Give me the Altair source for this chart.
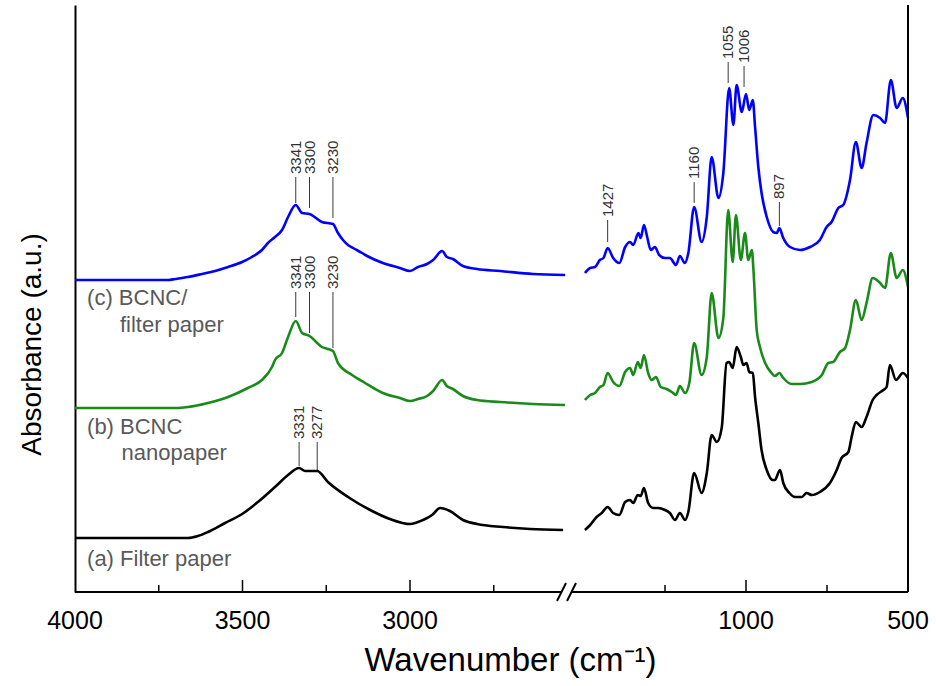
import altair as alt
import pandas as pd

# ---------------------------------------------------------------
# FTIR spectra (absorbance in a.u., vertically stacked)
# high-wavenumber segment 4000-2500 cm-1, fingerprint segment 1500-500 cm-1
# ---------------------------------------------------------------

# (a) Filter paper
FP_HI_WN = [4000, 3700, 3663, 3633, 3603, 3552, 3501, 3454, 3403, 3364, 3331, 3313,
            3277, 3245, 3185, 3119, 3060, 3000, 2961, 2934, 2910, 2881, 2842, 2800,
            2722, 2642, 2543]
FP_HI_ABS = [0.54, 0.54, 0.54, 0.56, 0.60, 0.69, 0.78, 0.90, 1.05, 1.17, 1.24, 1.21,
             1.21, 1.10, 0.95, 0.82, 0.73, 0.68, 0.72, 0.77, 0.84, 0.81, 0.72, 0.68,
             0.65, 0.63, 0.62]
FP_LO_WN = [1497, 1481, 1461, 1445, 1427, 1410, 1391, 1373, 1358, 1348, 1334, 1325,
            1315, 1302, 1286, 1271, 1250, 1235, 1219, 1204, 1188, 1178, 1160, 1137,
            1121, 1106, 1090, 1075, 1060, 1052, 1041, 1029, 1016, 1008, 998, 990,
            979, 972, 962, 952, 936, 918, 911, 895, 885, 866, 849, 828, 813, 797,
            772, 741, 720, 705, 684, 674, 661, 643, 628, 609, 597, 576, 566, 556,
            537, 516, 500]
FP_LO_ABS = [0.62, 0.67, 0.75, 0.79, 0.85, 0.79, 0.77, 0.90, 0.92, 0.89, 0.97, 0.96,
             1.04, 0.89, 0.84, 0.84, 0.82, 0.79, 0.72, 0.79, 0.72, 0.80, 1.19, 0.99,
             1.19, 1.57, 1.50, 1.64, 2.29, 2.30, 2.24, 2.45, 2.35, 2.27, 2.29, 2.20,
             2.19, 1.95, 1.69, 1.42, 1.22, 1.12, 1.12, 1.22, 1.09, 0.99, 0.95, 0.95,
             0.99, 0.97, 1.00, 1.09, 1.22, 1.34, 1.40, 1.55, 1.70, 1.65, 1.75, 1.92,
             1.97, 2.02, 2.05, 2.27, 2.12, 2.19, 2.14]

# (b) BCNC nanopaper
NP_HI_WN = [4000, 3700, 3663, 3603, 3543, 3484, 3442, 3412, 3403, 3382, 3364, 3341,
            3322, 3300, 3263, 3230, 3215, 3173, 3134, 3104, 3081, 3030, 3000, 2976,
            2949, 2931, 2904, 2890, 2872, 2842, 2800, 2731, 2633, 2537]
NP_HI_ABS = [1.84, 1.84, 1.85, 1.89, 1.95, 2.04, 2.12, 2.25, 2.32, 2.39, 2.55, 2.71,
             2.59, 2.56, 2.45, 2.41, 2.29, 2.17, 2.09, 2.03, 1.99, 1.94, 1.91, 1.93,
             1.96, 2.01, 2.12, 2.06, 2.03, 1.96, 1.92, 1.90, 1.88, 1.87]
NP_LO_WN = [1497, 1481, 1466, 1451, 1440, 1427, 1410, 1391, 1373, 1358, 1348, 1334,
            1325, 1315, 1302, 1291, 1278, 1263, 1245, 1229, 1216, 1204, 1188, 1175,
            1160, 1137, 1121, 1106, 1085, 1070, 1055, 1041, 1031, 1016, 1003, 993,
            982, 977, 967, 957, 941, 921, 911, 897, 885, 859, 833, 797, 766, 746,
            731, 710, 694, 679, 661, 643, 628, 609, 586, 571, 553, 535, 516, 500]
NP_LO_ABS = [1.92, 1.97, 1.99, 2.05, 2.07, 2.19, 2.10, 2.06, 2.20, 2.24, 2.17, 2.30,
             2.24, 2.37, 2.19, 2.12, 2.15, 2.05, 2.03, 2.00, 1.97, 2.06, 1.99, 2.09,
             2.49, 2.17, 2.35, 2.99, 2.54, 2.74, 3.82, 3.30, 3.77, 3.32, 3.59, 3.32,
             3.42, 3.22, 2.62, 2.45, 2.29, 2.19, 2.16, 2.19, 2.14, 2.08, 2.08, 2.10,
             2.17, 2.29, 2.30, 2.40, 2.44, 2.62, 2.92, 2.72, 2.89, 3.14, 3.09, 3.04,
             3.39, 3.14, 3.22, 3.05]

# (c) BCNC/filter paper
BF_HI_WN = [4000, 3722, 3701, 3663, 3621, 3582, 3543, 3501, 3472, 3442, 3424, 3403,
            3382, 3364, 3341, 3322, 3300, 3263, 3230, 3215, 3200, 3185, 3170, 3143,
            3128, 3081, 3030, 3000, 2976, 2949, 2931, 2904, 2890, 2872, 2842, 2800,
            2731, 2633, 2537]
BF_HI_ABS = [3.12, 3.12, 3.13, 3.15, 3.18, 3.21, 3.25, 3.30, 3.35, 3.42, 3.49, 3.55,
             3.62, 3.75, 3.87, 3.79, 3.78, 3.70, 3.68, 3.59, 3.52, 3.47, 3.44, 3.39,
             3.36, 3.29, 3.24, 3.21, 3.25, 3.28, 3.32, 3.41, 3.35, 3.33, 3.26, 3.23,
             3.21, 3.18, 3.17]
BF_LO_WN = [1497, 1481, 1466, 1451, 1440, 1427, 1410, 1391, 1373, 1358, 1348, 1332,
            1325, 1315, 1305, 1294, 1281, 1268, 1250, 1235, 1216, 1204, 1189, 1178,
            1160, 1137, 1121, 1106, 1085, 1070, 1052, 1039, 1029, 1013, 1000, 990,
            979, 972, 962, 952, 936, 916, 905, 897, 885, 864, 833, 802, 772, 751,
            736, 715, 700, 679, 661, 643, 628, 607, 586, 571, 553, 535, 516, 500]
BF_LO_ABS = [3.19, 3.24, 3.25, 3.32, 3.34, 3.44, 3.34, 3.29, 3.45, 3.50, 3.47, 3.59,
             3.54, 3.67, 3.55, 3.42, 3.45, 3.37, 3.34, 3.34, 3.27, 3.36, 3.29, 3.39,
             3.85, 3.50, 3.75, 4.35, 3.94, 4.19, 5.04, 4.67, 5.07, 4.80, 4.98, 4.82,
             4.92, 4.65, 4.25, 3.99, 3.75, 3.60, 3.59, 3.64, 3.54, 3.45, 3.42, 3.45,
             3.52, 3.65, 3.70, 3.84, 3.87, 4.12, 4.50, 4.24, 4.49, 4.77, 4.74, 4.69,
             5.12, 4.84, 4.94, 4.74]

SAMPLES = ["(a) Filter paper", "(b) BCNC nanopaper", "(c) BCNC/filter paper"]
COLORS = ["#000000", "#1a8a1a", "#0000ff"]

# peak assignments: wavenumber, leader-line start/end (a.u.)
PEAK_WN = [3341, 3300, 3230, 1427, 1160, 1055, 1006, 897,
           3341, 3300, 3230,
           3331, 3277]
PEAK_BASE = [3.89, 3.84, 3.74, 3.50, 3.89, 5.09, 5.05, 3.66,
             2.75, 2.59, 2.44,
             1.26, 1.22]
PEAK_TOP = [4.15, 4.15, 4.15, 3.72, 4.10, 5.30, 5.26, 3.90,
            3.00, 3.00, 3.00,
            1.50, 1.50]

# curve captions
CAPTION_TEXT = ["(c) BCNC/", "filter paper", "(b) BCNC", "nanopaper", "(a) Filter paper"]
CAPTION_WN = [3964, 3866, 3964, 3861, 3964]
CAPTION_ABS = [2.87, 2.60, 1.58, 1.32, 0.26]

# x axis ticks
MAJOR_TICKS = [3500, 3000, 1000]
MINOR_TICKS = [3750, 3250, 2750, 1250, 750]
TICK_LABELS = [4000, 3500, 3000, 1000, 500]

# ---------------------------------------------------------------
W, H = 833, 587
FONT = "Liberation Sans, Arial, sans-serif"


def axis_pos(wn):
    """Broken wavenumber axis: 4000-2500 on the left, 1500-500 on the right."""
    if wn >= 2000:
        return (4000 - wn) * 0.335
    return 671 + (1000 - wn) * 0.324


rows = []
for sample, seg, wns, vals in [
    (SAMPLES[0], "hi", FP_HI_WN, FP_HI_ABS), (SAMPLES[0], "lo", FP_LO_WN, FP_LO_ABS),
    (SAMPLES[1], "hi", NP_HI_WN, NP_HI_ABS), (SAMPLES[1], "lo", NP_LO_WN, NP_LO_ABS),
    (SAMPLES[2], "hi", BF_HI_WN, BF_HI_ABS), (SAMPLES[2], "lo", BF_LO_WN, BF_LO_ABS),
]:
    for w, a in zip(wns, vals):
        rows.append({"sample": sample, "trace": f"{sample} {seg}", "wn": w,
                     "pos": axis_pos(w), "absorbance": a})
spectra = pd.DataFrame(rows)

peaks = pd.DataFrame({
    "wn": PEAK_WN, "base": PEAK_BASE, "top": PEAK_TOP,
    "label": [str(w) for w in PEAK_WN],
})
peaks["pos"] = peaks["wn"].map(axis_pos)
peaks["label_y"] = peaks["top"] + 0.03

captions = pd.DataFrame({"text": CAPTION_TEXT, "wn": CAPTION_WN, "absorbance": CAPTION_ABS})
captions["pos"] = captions["wn"].map(axis_pos)

major = pd.DataFrame({"pos": [axis_pos(w) for w in MAJOR_TICKS]})
minor = pd.DataFrame({"pos": [axis_pos(w) for w in MINOR_TICKS]})
tick_labels = pd.DataFrame({"pos": [axis_pos(w) for w in TICK_LABELS],
                            "label": [str(w) for w in TICK_LABELS]})

# axis line split around the break, and the two break slashes (plot units)
BREAK_MID = 492
axis_segments = pd.DataFrame({"start": [0, BREAK_MID + 5], "end": [BREAK_MID - 5, W]})
slashes = pd.DataFrame({"x0": [BREAK_MID - 10, BREAK_MID], "x1": [BREAK_MID - 1, BREAK_MID + 9]})
frame = pd.DataFrame({"side": ["right"]})

x_scale = alt.Scale(domain=[0, W], nice=False, zero=False)
y_scale = alt.Scale(domain=[0, 5.87], nice=False, zero=False)

x_axis = alt.Axis(
    title="Wavenumber (cm⁻¹)", labels=False, ticks=False, domain=False, grid=False,
    titleFont=FONT, titleFontSize=33, titleFontWeight="normal", titleColor="#000000",
    titleX=435, titleY=68, titleAlign="center", titleBaseline="middle",
)
y_axis = alt.Axis(
    title="Absorbance (a.u.)", labels=False, ticks=False, grid=False,
    domain=True, domainColor="#000000", domainWidth=2,
    titleFont=FONT, titleFontSize=28, titleFontWeight="normal", titleColor="#000000",
    titleAngle=270, titleX=-43, titleY=339, titleAlign="center", titleBaseline="middle",
)


def X(field):
    return alt.X(field, type="quantitative", scale=x_scale, axis=x_axis)


def Y(field):
    return alt.Y(field, type="quantitative", scale=y_scale, axis=y_axis)


lines = alt.Chart(spectra).mark_line(strokeWidth=2.6, interpolate="monotone").encode(
    x=X("pos"),
    y=Y("absorbance"),
    color=alt.Color("sample:N", scale=alt.Scale(domain=SAMPLES, range=COLORS), legend=None),
    detail="trace:N",
    order="pos:Q",
)

peak_lines = alt.Chart(peaks).mark_rule(color="#3a3a3a", strokeWidth=1).encode(
    x=X("pos"), y=Y("base"), y2="top:Q",
)
peak_text = alt.Chart(peaks).mark_text(
    angle=270, align="left", baseline="middle", font=FONT, fontSize=15, color="#333333",
).encode(x=X("pos"), y=Y("label_y"), text="label:N")

caption_text = alt.Chart(captions).mark_text(
    align="left", baseline="alphabetic", font=FONT, fontSize=22, color="#595959",
).encode(x=X("pos"), y=Y("absorbance"), text="text:N")

right_border = alt.Chart(frame).mark_rule(color="#000000", strokeWidth=2).encode(
    x=alt.value(W), y=alt.value(0), y2=alt.value(H),
)
bottom_axis = alt.Chart(axis_segments).mark_rule(color="#000000", strokeWidth=2).encode(
    x=X("start"), x2="end:Q", y=alt.value(H),
)
break_marks = alt.Chart(slashes).mark_rule(color="#000000", strokeWidth=2).encode(
    x=X("x0"), x2="x1:Q", y=alt.value(H + 9), y2=alt.value(H - 9),
)
major_ticks = alt.Chart(major).mark_rule(color="#000000", strokeWidth=1.5).encode(
    x=X("pos"), y=alt.value(H - 12), y2=alt.value(H),
)
minor_ticks = alt.Chart(minor).mark_rule(color="#000000", strokeWidth=1.5).encode(
    x=X("pos"), y=alt.value(H - 7), y2=alt.value(H),
)
tick_text = alt.Chart(tick_labels).mark_text(
    align="center", baseline="middle", font=FONT, fontSize=25, color="#000000",
).encode(x=X("pos"), y=alt.value(H + 29), text="label:N")

chart = alt.layer(
    peak_lines, peak_text, caption_text, lines,
    right_border, bottom_axis, break_marks, major_ticks, minor_ticks, tick_text,
).properties(
    width=W, height=H,
    padding={"left": 75, "top": 5, "right": 28, "bottom": 94},
    autosize=alt.AutoSizeParams(type="none"),
    background="#ffffff",
).configure_view(stroke=None)

chart.save("out.html", embed_options={"renderer": "svg", "actions": False})
